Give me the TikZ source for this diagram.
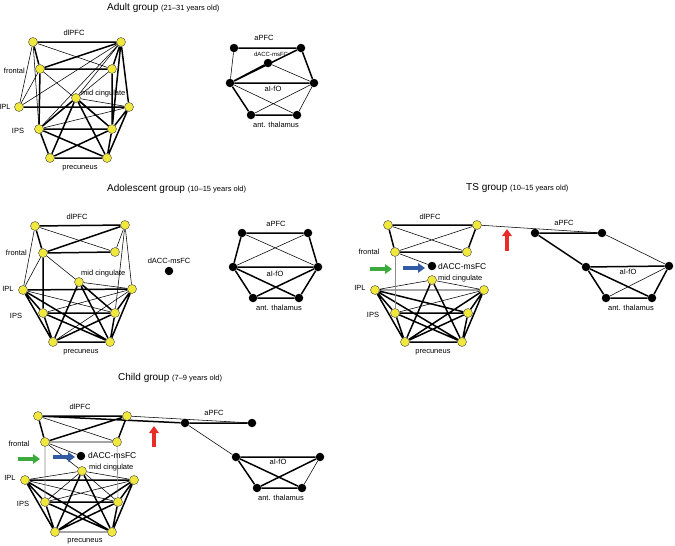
\documentclass[tikz,border=0pt]{standalone}
\usepackage{fontspec}
\setmainfont{Liberation Sans}
\usetikzlibrary{arrows.meta,backgrounds}
\definecolor{nodeyellow}{RGB}{240,232,60}
\definecolor{arrgreen}{RGB}{60,170,60}
\definecolor{arrblue}{RGB}{50,90,165}
\definecolor{arrred}{RGB}{230,45,40}
\tikzset{
  yel/.style={circle,draw=black!75,line width=0.4pt,fill=nodeyellow,inner sep=0pt,minimum size=9pt},
  blk/.style={circle,fill=black,inner sep=0pt,minimum size=8.5pt},
  thk/.style={line width=1.5pt},
  thn/.style={line width=0.55pt},
  gry/.style={line width=0.6pt,black!45},
  lbl/.style={font=\fontsize{7.5}{8}\selectfont,inner sep=0pt},
  ttl/.style={font=\fontsize{10}{11}\selectfont,anchor=west,inner sep=0pt},
  fat/.style={line width=3.5pt,-{Triangle[length=7pt,width=9.5pt]}},
}
\newcommand{\sub}[1]{{\fontsize{7.5}{8}\selectfont #1}}

\begin{document}
\begin{tikzpicture}[x=1pt,y=-1pt]
  %%%%% START %%%%%
  \useasboundingbox (0,0) rectangle (675,546);

  %%%%% ADULT %%%%%
  \node[ttl] (aTitle) at (107,8) {Adult group \sub{(21–31 years old)}};
  \node[yel] (aD1) at (33,42) {};   \node[yel] (aD2) at (121,42) {};
  \node[yel] (aF1) at (40,69) {};   \node[yel] (aF2) at (112,69) {};
  \node[yel] (aM) at (76,98) {};
  \node[yel] (aL1) at (19,107) {};  \node[yel] (aL2) at (129,107) {};
  \node[yel] (aS1) at (39,129) {};  \node[yel] (aS2) at (112,129) {};
  \node[yel] (aP1) at (50,158) {};  \node[yel] (aP2) at (107,158) {};
  \node[lbl] (aDlab) at (74,33) {dlPFC};
  \node[lbl,anchor=east] (aFlab) at (25,71) {frontal};
  \node[lbl] (aLlab) at (5,107) {IPL};
  \node[lbl] (aSlab) at (18,131) {IPS};
  \node[lbl,anchor=west] (aMlab) at (81,94) {mid cingulate};
  \node[lbl] (aPlab) at (80,168) {precuneus};

  \node[blk] (aA1) at (234,48) {};  \node[blk] (aA2) at (301,48) {};
  \node[blk] (aDA) at (268,63) {};
  \node[blk] (aI1) at (230,83) {};  \node[blk] (aI2) at (314,83) {};
  \node[blk] (aT1) at (251,115) {}; \node[blk] (aT2) at (297,115) {};
  \node[lbl] (aAlab) at (264,38) {aPFC};
  \node[lbl,font=\fontsize{6}{7}\selectfont] (aDAlab) at (271,54) {dACC-msFC};
  \node[lbl] (aIlab) at (273,89) {aI-fO};
  \node[lbl] (aTlab) at (276,125) {ant. thalamus};

  \begin{scope}[on background layer]
    \draw[thk] (aD1)--(aD2) (aD1)--(aF1) (aD2)--(aF1) (aD2)--(aF2) (aD2)--(aL2) (aD2)--(aS2)
      (aF1)--(aF2) (aF1)--(aS1) (aF2)--(aS2) (aL1)--(aL2) (aM)--(aS1) (aM)--(aP1) (aM)--(aP2)
      (aM)--(aS2) (aL2)--(aS2) (aL2)--(aP2) (aS1)--(aS2) (aS1)--(aP1) (aS1)--(aP2)
      (aS2)--(aP1) (aS2)--(aP2) (aP1)--(aP2);
    \draw[thn] (aD1)--(aL1) (aD1)--(aS1) (aD1)--(aF2) (aD2)--(aS1) (aD2)--(aL1) (aD2)--(aM)
      (aF1)--(aL1) (aF1)--(aS2) (aF2)--(aS1) (aM)--(aL2) (aL2)--(aS1);
    \draw[thk] (aA1)--(aA2) (aA2)--(aI2) (aA2)--(aI1) (aDA)--(aI1) (aI1)--(aI2) (aI1)--(aT1) (aT1)--(aT2);
    \draw[thn] (aA1)--(aI1) (aDA)--(aI2) (aI1)--(aT2) (aI2)--(aT1) (aI2)--(aT2);
  \end{scope}

  %%%%% ADOLESCENT %%%%%
  \node[ttl] (oTitle) at (107,189) {Adolescent group \sub{(10–15 years old)}};
  \node[yel] (oD1) at (35,226) {};  \node[yel] (oD2) at (125,225) {};
  \node[yel] (oF1) at (43,253) {};  \node[yel] (oF2) at (115,252) {};
  \node[yel] (oM) at (79,282) {};
  \node[yel] (oL1) at (23,290) {};  \node[yel] (oL2) at (132,289) {};
  \node[yel] (oS1) at (43,313) {};  \node[yel] (oS2) at (115,313) {};
  \node[yel] (oP1) at (53,342) {};  \node[yel] (oP2) at (110,342) {};
  \node[lbl] (oDlab) at (77,217) {dlPFC};
  \node[lbl,anchor=east] (oFlab) at (27,253) {frontal};
  \node[lbl] (oLlab) at (8,289) {IPL};
  \node[lbl] (oSlab) at (16,316) {IPS};
  \node[lbl,anchor=west] (oMlab) at (81,274) {mid cingulate};
  \node[lbl] (oPlab) at (81,352) {precuneus};
  \node[blk] (oDA) at (169,271) {};
  \node[lbl] (oDAlab) at (169,261) {dACC-msFC};

  \node[blk] (oA1) at (242,233) {}; \node[blk] (oA2) at (308,233) {};
  \node[blk] (oI1) at (233,267) {}; \node[blk] (oI2) at (318,267) {};
  \node[blk] (oT1) at (253,298) {}; \node[blk] (oT2) at (299,298) {};
  \node[lbl] (oAlab) at (276,224) {aPFC};
  \node[lbl] (oIlab) at (275,274) {aI-fO};
  \node[lbl] (oTlab) at (279,308) {ant. thalamus};

  \begin{scope}[on background layer]
    \draw[thk] (oD1)--(oD2) (oD1)--(oF1) (oD2)--(oF1) (oF1)--(oF2) (oF1)--(oS1) (oM)--(oS2)
      (oM)--(oP1) (oM)--(oP2) (oL1)--(oL2) (oL1)--(oS1) (oL1)--(oP1) (oL1)--(oP2) (oS1)--(oS2)
      (oS1)--(oP1) (oS1)--(oP2) (oS2)--(oP1) (oS2)--(oP2) (oS2)--(oL2) (oL2)--(oP2) (oP1)--(oP2);
    \draw[thn] (oD1)--(oL1) (oD1)--(oF2) (oD2)--(oF2) (oD2)--(oL2) (oD2)--(oS2) (oF1)--(oL1)
      (oF1)--(oM) (oM)--(oL2) (oL1)--(oS2) (oS1)--(oL2) (oL2)--(oP1);
    \draw[thk] (oA1)--(oA2) (oA1)--(oI1) (oA2)--(oI2) (oI1)--(oI2) (oI1)--(oT1) (oI1)--(oT2)
      (oI2)--(oT1) (oI2)--(oT2) (oT1)--(oT2);
    \draw[thn] (oA1)--(oI2) (oA2)--(oI1);
  \end{scope}

  %%%%% TS %%%%%
  \node[ttl] (tTitle) at (466,188) {TS group \sub{(10–15 years old)}};
  \node[yel] (tD1) at (388,225) {}; \node[yel] (tD2) at (477,225) {};
  \node[yel] (tF1) at (395,252) {}; \node[yel] (tF2) at (467,252) {};
  \node[blk] (tDA) at (432,266) {};
  \node[yel] (tM) at (432,280) {};
  \node[yel] (tL1) at (375,290) {}; \node[yel] (tL2) at (484,290) {};
  \node[yel] (tS1) at (395,313) {}; \node[yel] (tS2) at (468,313) {};
  \node[yel] (tP1) at (405,342) {}; \node[yel] (tP2) at (462,342) {};
  \node[lbl] (tDlab) at (430,217) {dlPFC};
  \node[lbl] (tFlab) at (369,252) {frontal};
  \node[lbl,anchor=west,font=\fontsize{8.5}{9}\selectfont] (tDAlab) at (438,266) {dACC-msFC};
  \node[lbl,anchor=west] (tMlab) at (438,279) {mid cingulate};
  \node[lbl] (tLlab) at (360,288) {IPL};
  \node[lbl] (tSlab) at (373,315) {IPS};
  \node[lbl] (tPlab) at (433,352) {precuneus};

  \node[blk] (tA1) at (535,233) {}; \node[blk] (tA2) at (602,233) {};
  \node[blk] (tI1) at (586,267) {}; \node[blk] (tI2) at (669,266) {};
  \node[blk] (tT1) at (606,298) {}; \node[blk] (tT2) at (652,298) {};
  \node[lbl] (tAlab) at (564,223) {aPFC};
  \node[lbl] (tIlab) at (628,272) {aI-fO};
  \node[lbl] (tTlab) at (631,308) {ant. thalamus};

  \begin{scope}[on background layer]
    \draw[thk] (tD1)--(tD2) (tD1)--(tF1) (tD2)--(tF2) (tF1)--(tF2) (tL1)--(tS2) (tL1)--(tP1)
      (tL1)--(tP2) (tL1)--(tS1) (tM)--(tP1) (tM)--(tP2) (tL2)--(tS2) (tL2)--(tP2) (tL2)--(tP1)
      (tS1)--(tS2) (tS1)--(tP1) (tS1)--(tP2) (tS2)--(tP1) (tS2)--(tP2) (tP1)--(tP2);
    \draw[thn] (tD1)--(tF2) (tD2)--(tF1) (tF1)--(tDA) (tL1)--(tM) (tL1)--(tL2) (tM)--(tL2)
      (tL2)--(tS1) (tD2)--(tA2);
    \draw[gry] (tF1)--(tS1);
    \draw[thk] (tA1)--(tA2) (tA1)--(tI1) (tI1)--(tI2) (tI1)--(tT1) (tI1)--(tT2) (tI2)--(tT2) (tT1)--(tT2);
    \draw[thn] (tA2)--(tI2) (tI2)--(tT1);
  \end{scope}
  \draw[fat,arrgreen] (370,269) -- (392,269);
  \draw[fat,arrblue] (403,268) -- (425,268);
  \draw[fat,arrred] (507,251) -- (507,229);

  %%%%% CHILD %%%%%
  \node[ttl] (cTitle) at (118,378) {Child group \sub{(7–9 years old)}};
  \node[yel] (cD1) at (38,416) {};  \node[yel] (cD2) at (127,416) {};
  \node[yel] (cF1) at (45,442) {};  \node[yel] (cF2) at (117,442) {};
  \node[blk] (cDA) at (81,456) {};
  \node[yel] (cM) at (82,471) {};
  \node[yel] (cL1) at (25,480) {};  \node[yel] (cL2) at (134,480) {};
  \node[yel] (cS1) at (45,502) {};  \node[yel] (cS2) at (118,502) {};
  \node[yel] (cP1) at (55,532) {};  \node[yel] (cP2) at (112,532) {};
  \node[lbl] (cDlab) at (80,407) {dlPFC};
  \node[lbl] (cFlab) at (19,444) {frontal};
  \node[lbl,anchor=west,font=\fontsize{8.5}{9}\selectfont] (cDAlab) at (88,455) {dACC-msFC};
  \node[lbl,anchor=west] (cMlab) at (89,468) {mid cingulate};
  \node[lbl] (cLlab) at (10,478) {IPL};
  \node[lbl] (cSlab) at (23,504) {IPS};
  \node[lbl] (cPlab) at (85,541) {precuneus};

  \node[blk] (cA1) at (185,423) {}; \node[blk] (cA2) at (252,423) {};
  \node[blk] (cI1) at (236,457) {}; \node[blk] (cI2) at (320,457) {};
  \node[blk] (cT1) at (257,488) {}; \node[blk] (cT2) at (302,488) {};
  \node[lbl] (cAlab) at (214,413) {aPFC};
  \node[lbl] (cIlab) at (278,462) {aI-fO};
  \node[lbl] (cTlab) at (281,498) {ant. thalamus};

  \begin{scope}[on background layer]
    \draw[thk] (cD1)--(cD2) (cD1)--(cF1) (cD2)--(cF1) (cD2)--(cF2) (cM)--(cP1) (cM)--(cP2)
      (cL1)--(cL2) (cL1)--(cS1) (cL1)--(cP1) (cL1)--(cP2) (cL2)--(cS2) (cL2)--(cP2) (cL2)--(cP1)
      (cS1)--(cS2) (cS1)--(cP1) (cS1)--(cP2) (cS2)--(cP1) (cS2)--(cP2) (cD1)--(cA1);
    \draw[thn] (cD1)--(cF2) (cF1)--(cF2) (cF1)--(cDA) (cF1)--(cM) (cM)--(cL2) (cM)--(cS1)
      (cM)--(cS2) (cL1)--(cS2) (cL1)--(cM) (cL2)--(cS1) (cP1)--(cP2) (cD2)--(cA2);
    \draw[gry] (cF1)--(cS1) (cF2)--(cS2);
    \draw[thk] (cA1)--(cA2) (cI1)--(cI2) (cI1)--(cT1) (cI1)--(cT2) (cI2)--(cT1) (cT1)--(cT2);
    \draw[thn] (cA1)--(cI1) (cI2)--(cT2);
  \end{scope}
  \draw[fat,arrgreen] (18,459) -- (40,459);
  \draw[fat,arrblue] (53,457) -- (75,457);
  \draw[fat,arrred] (154,447) -- (154,426);
  %%%%% END %%%%%
\end{tikzpicture}
\end{document}
